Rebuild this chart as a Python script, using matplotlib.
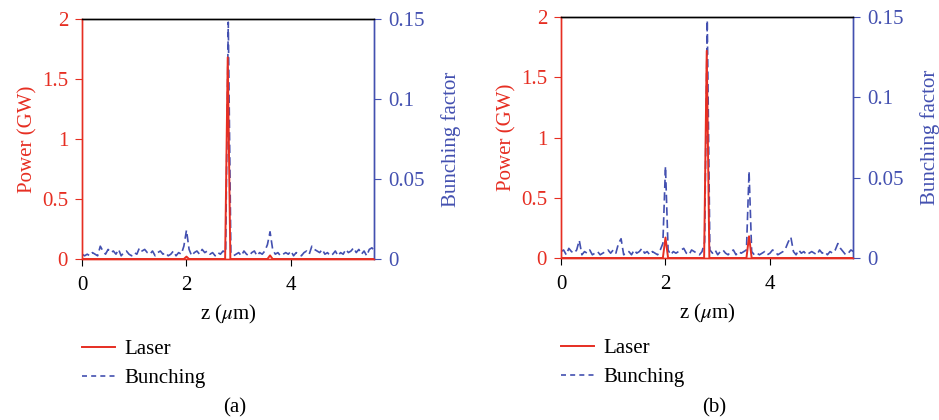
import matplotlib
matplotlib.use('Agg')
import matplotlib.pyplot as plt
import numpy as np

matplotlib.rcParams.update({
    'font.family': 'serif',
    'font.serif': ['Liberation Serif', 'DejaVu Serif'],
    'mathtext.fontset': 'stix',
    'font.size': 15,
    'axes.linewidth': 1.0,
})

RED = '#e62e22'
BLUE = '#4350b0'
DASH = (0, (5, 2.5))

# sampling grid of the bunching factor (um)
z_bunch = np.round(np.arange(0, 113) * 0.05, 2)

# (a) bunching factor
bunch_a = [
    0.003, 0.002, 0.003, 0.002, 0.004, 0.003, 0.002, 0.008, 0.005, 0.003,
    0.006, 0.004, 0.005, 0.003, 0.006, 0.002, 0.004, 0.005, 0.003, 0.002,
    0.004, 0.003, 0.007, 0.005, 0.006, 0.004, 0.003, 0.005, 0.002, 0.004,
    0.005, 0.003, 0.004, 0.002, 0.003, 0.005, 0.002, 0.004, 0.003, 0.008,
    0.018, 0.006, 0.002, 0.004, 0.005, 0.003, 0.006, 0.004, 0.005, 0.003,
    0.004, 0.002, 0.004, 0.003, 0.005, 0.004, 0.148, 0.004, 0.002, 0.003,
    0.004, 0.002, 0.005, 0.003, 0.002, 0.004, 0.005, 0.002, 0.004, 0.003,
    0.005, 0.009, 0.017, 0.006, 0.003, 0.004, 0.002, 0.003, 0.004, 0.003,
    0.005, 0.002, 0.004, 0.003, 0.002, 0.004, 0.005, 0.003, 0.008, 0.006,
    0.005, 0.004, 0.006, 0.003, 0.004, 0.002, 0.003, 0.005, 0.002, 0.004,
    0.003, 0.006, 0.004, 0.005, 0.007, 0.004, 0.006, 0.003, 0.005, 0.002,
    0.006, 0.007, 0.005,
]

# (b) bunching factor
bunch_b = [
    0.004, 0.005, 0.002, 0.006, 0.004, 0.003, 0.005, 0.011, 0.002, 0.004,
    0.003, 0.005, 0.002, 0.003, 0.004, 0.002, 0.003, 0.004, 0.005, 0.003,
    0.005, 0.003, 0.009, 0.012, 0.002, 0.003, 0.004, 0.002, 0.005, 0.003,
    0.004, 0.006, 0.003, 0.004, 0.002, 0.004, 0.003, 0.002, 0.005, 0.009,
    0.057, 0.005, 0.002, 0.004, 0.003, 0.004, 0.005, 0.006, 0.003, 0.002,
    0.005, 0.004, 0.003, 0.002, 0.004, 0.010, 0.148, 0.005, 0.003, 0.005,
    0.002, 0.004, 0.005, 0.003, 0.002, 0.004, 0.005, 0.002, 0.004, 0.003,
    0.004, 0.005, 0.054, 0.004, 0.002, 0.003, 0.002, 0.003, 0.004, 0.002,
    0.003, 0.005, 0.004, 0.002, 0.003, 0.004, 0.006, 0.010, 0.013, 0.004,
    0.002, 0.005, 0.003, 0.004, 0.002, 0.003, 0.004, 0.003, 0.002, 0.005,
    0.003, 0.004, 0.002, 0.004, 0.003, 0.005, 0.009, 0.006, 0.004, 0.002,
    0.003, 0.005, 0.004,
]

# laser power (GW), only the spikes are non-zero
z_laser = [0.0, 1.95, 2.0, 2.05, 2.74, 2.79, 2.84, 3.55, 3.6, 3.65, 5.6]
power_a = [0.0, 0.0, 0.02, 0.0, 0.0, 1.68, 0.0, 0.0, 0.03, 0.0, 0.0]
power_b = [0.0, 0.0, 0.17, 0.0, 0.0, 1.72, 0.0, 0.0, 0.18, 0.0, 0.0]

panels = [
    ('(a)', power_a, bunch_a, [82, 374, 259, 19]),
    ('(b)', power_b, bunch_b, [561, 853, 258, 17]),
]

W, H = 939, 420
fig = plt.figure(figsize=(W / 100, H / 100), dpi=100)

for tag, power, bunch, (x0, x1, yb, yt) in panels:
    ax = fig.add_axes([x0 / W, 1 - yb / H, (x1 - x0) / W, (yb - yt) / H])
    ax2 = ax.twinx()

    ax2.plot(z_bunch, bunch, color=BLUE, lw=1.2, ls=DASH, zorder=2)
    ax.plot(z_laser, power, color=RED, lw=1.4, zorder=3)
    ax.set_zorder(ax2.get_zorder() + 1)
    ax.patch.set_visible(False)

    ax.set_xlim(0, 5.59)
    ax.set_ylim(0, 2)
    ax2.set_ylim(0, 0.15)
    ax.set_xticks([0, 2, 4])
    ax.set_yticks([0, 0.5, 1, 1.5, 2])
    ax.set_yticklabels(['0', '0.5', '1', '1.5', '2'])
    ax2.set_yticks([0, 0.05, 0.1, 0.15])
    ax2.set_yticklabels(['0', '0.05', '0.1', '0.15'])

    ax.tick_params(axis='y', colors=RED, direction='out', length=5, pad=5)
    ax.tick_params(axis='x', colors='black', direction='out', length=5, pad=7)
    ax2.tick_params(axis='y', colors=BLUE, direction='out', length=5, pad=5)

    for a in (ax, ax2):
        a.spines['left'].set_color(RED)
        a.spines['right'].set_color(BLUE)
        a.spines['top'].set_color('black')
        a.spines['bottom'].set_color(RED)

    ax.set_ylabel('Power (GW)', color=RED, labelpad=3)
    ax2.set_ylabel('Bunching factor', color=BLUE, labelpad=12)
    ax.set_xlabel(r'z ($\mu$m)', labelpad=6)

    ax.plot([], [], color=RED, lw=1.4, label='Laser')
    ax.plot([], [], color=BLUE, lw=1.2, ls=(0, (3, 2.5)), label='Bunching')
    ax.legend(loc='upper left', bbox_to_anchor=(0, -0.335), frameon=False,
              borderpad=0, borderaxespad=0, handlelength=1.6,
              handletextpad=0.45, labelspacing=0.45)

    fig.text((x0 + 153) / W, 1 - 408 / H, tag, ha='center', va='center')

fig.savefig('out.png', dpi=100)
plt.close()
